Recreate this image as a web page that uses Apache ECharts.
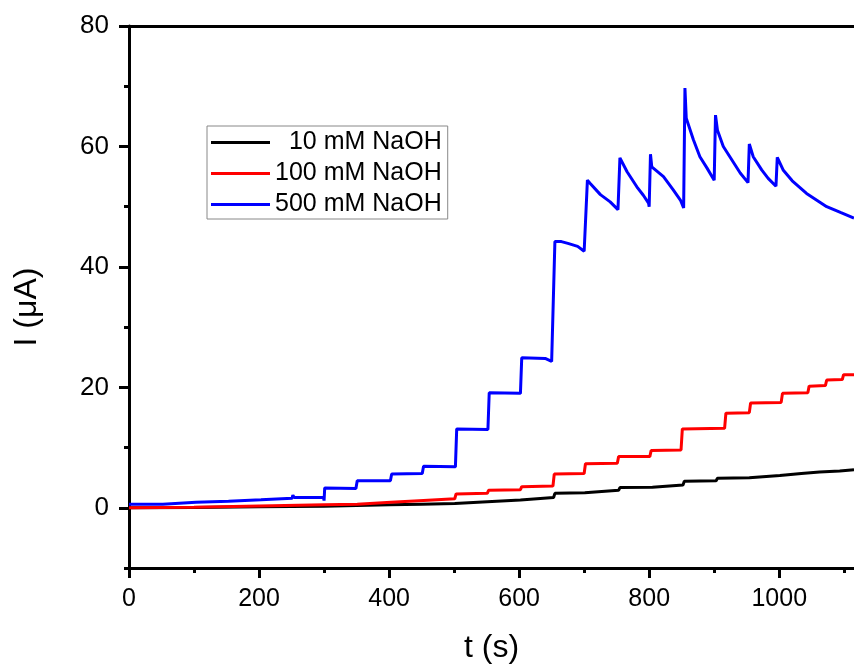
<!DOCTYPE html>
<html>
<head>
<meta charset="utf-8">
<script src="https://cdn.jsdelivr.net/npm/echarts@6/dist/echarts.min.js"></script>
<style>html,body{margin:0;padding:0;background:#fff}#chart{width:854px;height:667px}</style>
</head>
<body>
<div id="chart"></div>
<script>
// Names
const seriesNames = ['10 mM NaOH', '100 mM NaOH', '500 mM NaOH'];
const seriesColors = ['#000000', '#ff0000', '#0000ff'];

// Tick values
const xMajorTicks = [0, 200, 400, 600, 800, 1000];
const xMinorTicks = [100, 300, 500, 700, 900, 1100];
const yMajorTicks = [0, 20, 40, 60, 80];
const yMinorTicks = [-10, 10, 30, 50, 70];

// 10 mM NaOH: [t (s), I (uA)]
const data10 = [
  [0,0],[100,0.05],[200,0.15],[300,0.25],[400,0.5],[450,0.6],[501,0.7],[503,0.95],
  [551,1.0],[553,1.2],[602,1.3],[604,1.6],[653,1.7],[655,2.4],[701,2.5],[703,2.8],
  [753,2.9],[755,3.35],[805,3.4],[807,3.6],[852,3.8],[854,4.4],[903,4.5],[905,4.9],
  [954,5.0],[956,5.25],[1001,5.35],[1003,5.6],[1034,5.7],[1036,5.9],[1062,5.95],[1064,6.05],
  [1093,6.1],[1095,6.2],[1115,6.3]
];

// 100 mM NaOH
const data100 = [
  [0,0],[100,0.1],[200,0.3],[300,0.5],[351,0.6],[353,0.8],[403,0.9],[405,1.1],
  [453,1.2],[455,1.4],[501,1.5],[503,2.3],[551,2.4],[553,2.9],[602,3.0],[604,3.5],
  [652,3.6],[654,5.6],[700,5.7],[702,7.3],[751,7.4],[753,8.5],[801,8.5],[803,9.5],
  [849,9.6],[851,13.1],[916,13.2],[918,15.7],[954,15.8],[956,17.4],[1003,17.5],[1005,19.0],
  [1044,19.1],[1046,20.2],[1071,20.3],[1073,21.2],[1097,21.3],[1099,22.1],[1115,22.1]
];

// 500 mM NaOH
const data500 = [
  [0,0.6],[52,0.6],[53,0.9],[103,0.9],[104,1.05],[153,1.1],[154,1.3],[203,1.35],
  [204,1.5],[251,1.6],[252,2.1],[254,1.7],[299,1.75],[300,1.2],[301,3.3],[349,3.2],
  [351,4.5],[402,4.5],[404,5.6],[451,5.7],[453,6.9],[502,6.8],[504,13.1],[552,13.0],
  [554,19.1],[602,19.0],[604,24.9],[640,24.8],[650,24.3],[652,24.0],[655,44.2],[665,44.2],
  [675,43.9],[690,43.4],[700,42.6],[702,42.5],[705,54.4],[709,53.9],[725,52.0],[740,50.8],
  [752,49.5],[753,49.3],[755,58.1],[766,55.8],[781,53.3],[791,51.9],[799,50.6],[800,50.0],
  [802,58.7],[804,56.6],[822,55.0],[837,52.8],[848,51.1],[853,49.8],[855,69.7],[857,64.7],
  [868,61.1],[878,58.3],[889,56.4],[900,54.4],[902,65.2],[905,62.7],[914,60.0],[927,57.8],
  [940,55.6],[952,54.0],[954,60.4],[960,58.3],[973,56.1],[983,54.7],[995,53.4],[997,58.2],
  [1006,56.1],[1020,54.3],[1042,52.2],[1073,50.0],[1095,49.0],[1115,48.1]
];

const allData = [data10, data100, data500];

const FONT = "'Liberation Sans', Arial, sans-serif";
const X_MIN = 0, X_MAX = 1115, Y_MIN = -10, Y_MAX = 80;

const chart = echarts.init(document.getElementById('chart'), null, {renderer: 'canvas'});

const axisLineStyle = {color: '#000', width: 3};
const plain = function (v) { return String(v); };

const option = {
  animation: false,
  backgroundColor: '#fff',
  grid: {left: 129, top: 26, right: 0, bottom: 99, containLabel: false, outerBoundsMode: 'none'},
  legend: {
    orient: 'vertical',
    left: 207, top: 126,
    data: seriesNames,
    icon: 'rect',
    itemWidth: 59, itemHeight: 3,
    itemGap: 6,
    padding: [4, 6, 2, 4],
    borderColor: '#888', borderWidth: 1,
    backgroundColor: '#fff',
    formatter: function (name) { return name === seriesNames[0] ? '  ' + name : name; },
    textStyle: {fontFamily: FONT, fontSize: 25, color: '#000'}
  },
  xAxis: [
    {
      type: 'value', min: X_MIN, max: X_MAX, position: 'bottom',
      name: 't (s)', nameLocation: 'middle', nameGap: 64,
      nameTextStyle: {fontFamily: FONT, fontSize: 32, color: '#000'},
      axisLine: {show: true, onZero: false, lineStyle: axisLineStyle},
      axisTick: {show: true, inside: false, length: 10, lineStyle: {width: 3, color: '#000'}, customValues: xMajorTicks},
      axisLabel: {show: true, margin: 19, fontFamily: FONT, fontSize: 25, color: '#000', customValues: xMajorTicks, formatter: plain},
      splitLine: {show: false}
    },
    {
      type: 'value', min: X_MIN, max: X_MAX, position: 'bottom',
      axisLine: {show: false, onZero: false},
      axisTick: {show: true, inside: false, length: 5, lineStyle: {width: 3, color: '#000'}, customValues: xMinorTicks},
      axisLabel: {show: false},
      splitLine: {show: false}
    },
    {
      type: 'value', min: X_MIN, max: X_MAX, position: 'top',
      axisLine: {show: true, onZero: false, lineStyle: axisLineStyle},
      axisTick: {show: false}, axisLabel: {show: false}, splitLine: {show: false}
    }
  ],
  yAxis: [
    {
      type: 'value', min: Y_MIN, max: Y_MAX, position: 'left',
      name: 'I (μA)', nameLocation: 'middle', nameGap: 86,
      nameTextStyle: {fontFamily: FONT, fontSize: 32, color: '#000', padding: [0, 20, 0, 0]},
      axisLine: {show: true, onZero: false, lineStyle: axisLineStyle},
      axisTick: {show: true, inside: false, length: 10, lineStyle: {width: 3, color: '#000'}, customValues: yMajorTicks},
      axisLabel: {show: true, margin: 20, fontFamily: FONT, fontSize: 26, color: '#000', customValues: yMajorTicks, formatter: plain},
      splitLine: {show: false}
    },
    {
      type: 'value', min: Y_MIN, max: Y_MAX, position: 'left',
      axisLine: {show: false, onZero: false},
      axisTick: {show: true, inside: false, length: 5, lineStyle: {width: 3, color: '#000'}, customValues: yMinorTicks},
      axisLabel: {show: false},
      splitLine: {show: false}
    }
  ],
  series: seriesNames.map(function (name, i) {
    return {
      name: name, type: 'line', xAxisIndex: 0, yAxisIndex: 0,
      data: allData[i], showSymbol: false, symbol: 'none',
      color: seriesColors[i],
      lineStyle: {color: seriesColors[i], width: 3},
      clip: true
    };
  })
};

chart.setOption(option);
</script>
</body>
</html>
